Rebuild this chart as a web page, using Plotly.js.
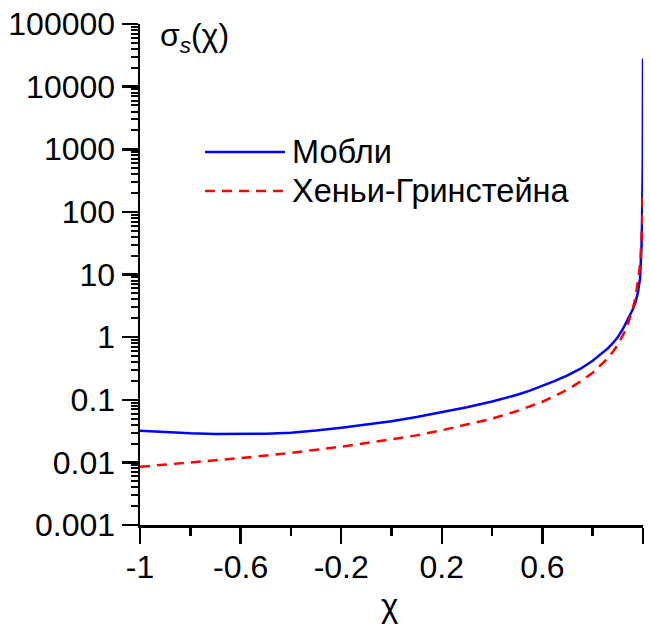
<!DOCTYPE html>
<html>
<head>
<meta charset="utf-8">
<script src="https://cdn.plot.ly/plotly-3.0.1.min.js"></script>
<style>
  html, body { margin: 0; padding: 0; background: #fff; }
  #chart { width: 650px; height: 626px; }
</style>
</head>
<body>
<div id="chart"></div>
<script>
// Mobley phase function (blue, solid)
const mobleyX = [-1, -0.9, -0.8, -0.7, -0.6, -0.5, -0.4, -0.3, -0.2, -0.1, 0, 0.1, 0.2, 0.3, 0.4, 0.5, 0.55, 0.6, 0.65, 0.7, 0.75, 0.8, 0.83, 0.86, 0.88, 0.9, 0.92, 0.935, 0.95, 0.96, 0.97, 0.98, 0.988, 0.992, 0.994, 0.996, 0.997, 0.998, 0.999, 0.9995, 1];
const mobleyY = [0.032, 0.0302, 0.0292, 0.0285, 0.0283, 0.0287, 0.0298, 0.0322, 0.0358, 0.040, 0.0455, 0.053, 0.063, 0.076, 0.094, 0.12, 0.14, 0.165, 0.20, 0.245, 0.31, 0.42, 0.52, 0.66, 0.80, 1.0, 1.35, 1.75, 2.3, 2.8, 3.6, 5.2, 8.5, 15, 27, 60, 100, 220, 600, 2500, 28000];

// Henyey-Greenstein phase function (red, dashed)
const hgX = [-1, -0.8, -0.6, -0.4, -0.2, 0, 0.1, 0.2, 0.3, 0.4, 0.5, 0.6, 0.65, 0.7, 0.75, 0.8, 0.85, 0.88, 0.9, 0.92, 0.93, 0.94, 0.95, 0.96, 0.97, 0.975, 0.98, 0.985, 0.99, 0.995, 0.998, 1];
const hgY = [0.0085, 0.0099, 0.0117, 0.0142, 0.0178, 0.0233, 0.027, 0.0325, 0.040, 0.050, 0.066, 0.093, 0.115, 0.145, 0.195, 0.27, 0.42, 0.58, 0.76, 1.05, 1.28, 1.62, 2.1, 2.9, 4.3, 5.6, 7.5, 11, 18, 40, 87, 210];

const xTickVals = [-1, -0.6, -0.2, 0.2, 0.6, 1];
const xTickText = ['-1', '-0.6', '-0.2', '0.2', '0.6', '1'];
const xMinorVals = [-0.8, -0.4, 0, 0.4, 0.8];
const yTickVals = [0.001, 0.01, 0.1, 1, 10, 100, 1000, 10000, 100000];
const yTickText = ['0.001', '0.01', '0.1', '1', '10', '100', '1000', '10000', '100000'];

const seriesNames = ['Мобли', 'Хеньи-Гринстейна'];

const yMinorVals = [];
for (let e = -3; e < 5; e++) {
  for (let m = 2; m <= 9; m++) yMinorVals.push(m * Math.pow(10, e));
}

const font = "'Liberation Sans', Arial, sans-serif";
const FS = 32;

const traces = [
  { x: mobleyX, y: mobleyY, type: 'scatter', mode: 'lines', name: seriesNames[0],
    line: { color: '#0000ff', width: 2.5 }, showlegend: false, cliponaxis: false },
  { x: hgX, y: hgY, type: 'scatter', mode: 'lines', name: seriesNames[1],
    line: { color: '#ff0000', width: 2.5, dash: '10px,7px' }, showlegend: false, cliponaxis: false }
];

const L = 140, R = 7, T = 24, B = 101;
const W = 650 - L - R, H = 626 - T - B;
const px = (x) => (x - L) / W;
const py = (y) => (626 - B - y) / H;

const layout = {
  width: 650, height: 626,
  margin: { l: L, r: R, t: T, b: B, pad: 0 },
  paper_bgcolor: '#fff', plot_bgcolor: '#fff',
  showlegend: false,
  font: { family: font, size: FS, color: '#000' },
  xaxis: {
    range: [-1, 1], showgrid: false, zeroline: false,
    showline: true, linecolor: '#000', linewidth: 2.5,
    tickmode: 'array', tickvals: xTickVals, ticktext: xTickText,
    ticks: 'outside', ticklen: 16, tickwidth: 2.5, tickcolor: '#000',
    ticklabelstandoff: -4,
    tickfont: { family: font, size: FS, color: '#000' },
    minor: { tickmode: 'array', tickvals: xMinorVals, ticks: 'outside', ticklen: 8, tickwidth: 2.5, tickcolor: '#000', showgrid: false },
    fixedrange: true
  },
  yaxis: {
    type: 'log', range: [-3, 5], showgrid: false, zeroline: false,
    showline: true, linecolor: '#000', linewidth: 2.5,
    tickmode: 'array', tickvals: yTickVals, ticktext: yTickText,
    ticks: 'outside', ticklen: 16, tickwidth: 2.5, tickcolor: '#000',
    tickfont: { family: font, size: FS, color: '#000' },
    minor: { tickmode: 'array', tickvals: yMinorVals, ticks: 'outside', ticklen: 7, tickwidth: 2, tickcolor: '#000', showgrid: false },
    fixedrange: true
  },
  shapes: [
    { type: 'line', xref: 'paper', yref: 'paper', x0: px(205), x1: px(285), y0: py(152), y1: py(152),
      line: { color: '#0000ff', width: 2.5 } },
    { type: 'line', xref: 'paper', yref: 'paper', x0: px(205), x1: px(285), y0: py(191), y1: py(191),
      line: { color: '#ff0000', width: 2.5, dash: '10px,7px' } }
  ],
  annotations: [
    { xref: 'paper', yref: 'paper', x: px(290), y: py(152), xanchor: 'left', yanchor: 'middle',
      text: seriesNames[0], showarrow: false, font: { family: font, size: 32.5, color: '#000' } },
    { xref: 'paper', yref: 'paper', x: px(290), y: py(191), xanchor: 'left', yanchor: 'middle',
      text: seriesNames[1], showarrow: false, font: { family: font, size: 32.5, color: '#000' } },
    { xref: 'paper', yref: 'paper', x: px(158), y: py(37), xanchor: 'left', yanchor: 'middle',
      text: 'σ<sub><i>s</i></sub>(χ)', showarrow: false, font: { family: font, size: 32, color: '#000' } },
    { xref: 'paper', yref: 'paper', x: px(389), y: py(605), xanchor: 'center', yanchor: 'middle',
      text: 'χ', showarrow: false, font: { family: font, size: 33, color: '#000' } }
  ]
};

Plotly.newPlot('chart', traces, layout, { staticPlot: true, displayModeBar: false });
</script>
</body>
</html>
